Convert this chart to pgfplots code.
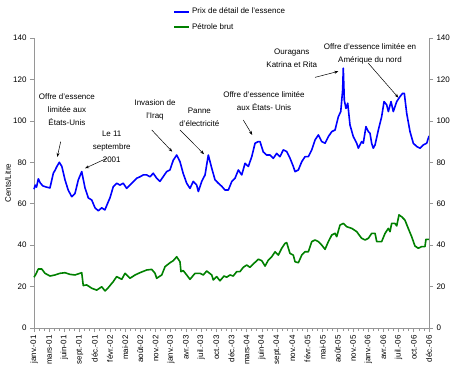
\documentclass[border=0pt]{standalone}
\usepackage{pgfplots}
\pgfplotsset{compat=1.18}
\usetikzlibrary{arrows.meta}
\usepackage{fontspec}
\setmainfont{Liberation Sans}
\definecolor{gasblue}{RGB}{0,0,255}
\definecolor{crudegreen}{RGB}{0,128,0}
\definecolor{axisgray}{RGB}{150,150,150}
\pgfplotsset{
  common/.style={
    at={(0,0)}, anchor=south west,
    width=395pt, height=290pt, scale only axis,
    xmin=0, xmax=312, ymin=0, ymax=140,
    ytick={0,20,...,140},
    axis line style={draw=axisgray, line width=0.9pt},
    tick style={draw=axisgray, line width=0.7pt},
    tick align=outside,
    major tick length=4pt, minor tick length=2.5pt,
    tick label style={font=\fontsize{8}{10}\selectfont},
    /pgf/number format/assume math mode=true,
  }
}
\begin{document}
\begin{tikzpicture}[font=\fontsize{8}{10}\selectfont]
\begin{axis}[common,
  axis x line*=bottom, axis y line*=left,
  clip=false,
  xtick={0,12,...,312},
  minor x tick num=2,
  xticklabels={janv.-01, mars-01, juin-01, sept.-01, déc.-01, févr.-02, mai-02, août-02, nov.-02, janv.-03, avr.-03, juil.-03, oct.-03, déc.-03, mars-04, juin-04, sept.-04, nov.-04, févr.-05, mai-05, août-05, nov.-05, janv.-06, avr.-06, juil.-06, oct.-06, déc.-06},
  x tick label style={rotate=90, anchor=east},
  ylabel={Cents/Litre},
  ylabel style={at={(axis description cs:-0.066,0.5)}, anchor=center, font=\fontsize{8}{10}\selectfont},
  legend style={at={(axis description cs:0.345,1)}, anchor=south west, yshift=3pt,
    draw=none, fill=none, font=\fontsize{8}{10}\selectfont, row sep=4pt},
  legend cell align=left,
  legend image code/.code={\draw[#1] (0pt,0pt) -- (15pt,0pt);},
]
\addplot[gasblue, line width=1.6pt, line join=round] coordinates {
(0,67) (1,69) (2,68) (3.4,72) (5,70) (7,68.6) (10,68) (12.6,67.6) (15.3,74.8) (16.5,76) (18,77.9) (20,80) (22,78) (24.5,71.5) (27,66.6) (29.8,63.4) (32.4,65) (35,71.5) (37.7,75.5) (40.3,67.6) (42.9,62.8) (45.6,61.8) (48.2,58) (50.8,56.6) (53.5,58) (56,57) (58.7,61) (60,62.8) (62.6,68.2) (65.3,69.9) (67.9,69) (70.5,69.9) (73.2,67.4) (75.8,69) (78.4,70.6) (81.1,72.3) (83.7,73) (86.3,73.9) (89,73.9) (91.6,73) (94.2,74.7) (96.9,72.3) (99.5,70.8) (102.1,73.1) (104.8,75.5) (107.4,76.3) (110,81) (112.7,83.5) (115.3,80.3) (117.9,74.5) (120.6,69.9) (123.2,67.4) (125.8,70.8) (128.5,69) (129.8,65.9) (132.5,70.8) (135.1,73.9) (137.7,83.5) (140.4,77.1) (143,71.5) (145.6,69.9) (148.3,68.4) (150.9,66.6) (153.5,66.6) (156.2,70.7) (158.8,72.3) (161.4,76.3) (164.1,73.9) (166.7,79.5) (169.3,78) (172,82.7) (174.6,89.2) (177.2,90) (178.5,90) (181.1,85) (183.8,83.5) (186.4,83.5) (189,81.9) (191.7,84.3) (194.3,82.7) (196.9,86) (199.6,85.2) (202.2,82) (204.8,78) (206.2,75.5) (208.8,76.3) (211.5,80.3) (214.1,82.7) (216.7,82.7) (219.4,86) (222,90.8) (224.6,93.2) (227.3,90) (229.9,89.2) (232.5,92.4) (235.2,94.8) (237.8,95.6) (240.4,102) (242.3,104.5) (243.8,115) (244.3,125.4) (245.1,110) (246.4,106) (247.8,108.5) (249.6,98) (252.2,92.4) (254.9,89.2) (256.2,86.8) (258.8,90) (260.1,89.2) (262.2,97.2) (264.1,94.8) (265.4,94) (266.7,89.2) (268,86.8) (269.4,88.4) (272,95.6) (274.6,102) (276.5,109.3) (278.6,107.7) (279.9,104.5) (282,109.3) (283.8,104.5) (286.5,109.3) (289.1,111.7) (291.2,113.3) (292.5,113.3) (294.4,103.6) (297,94.8) (299.6,89.2) (302.3,87.6) (304.9,86.8) (307.5,88.4) (310.2,89.2) (312,92.7)
};
\addlegendentry{Prix de détail de l'essence}
\addplot[crudegreen, line width=1.6pt, line join=round] coordinates {
(0,24.5) (1.5,26) (3.4,28.5) (6.1,28.5) (8.7,26.4) (12.6,25.1) (16.6,25.6) (20.5,26.4) (24.5,26.7) (28.4,25.9) (32.4,25.6) (36.3,26.4) (37.7,26.7) (38.9,20.5) (41.6,20.8) (45.6,19.2) (49.5,18.3) (53.5,19.9) (56.1,17.9) (58.7,19.5) (62.6,22.4) (65.3,24.8) (69.3,23.5) (71.9,26.4) (75.8,24) (79.8,25.6) (83.7,26.7) (89,28) (93,28.3) (95.6,26.4) (96.9,24) (100.9,25.6) (103.5,29.6) (107.4,31.5) (110,32.5) (112.7,34.4) (115.3,32) (116.1,27.2) (117.9,27.7) (120.6,25.6) (123.2,23.5) (127.2,26.4) (131.1,26.4) (133.7,25.6) (136.4,27.5) (140.4,25.6) (141.6,23.2) (144.3,24.8) (146.9,22.8) (150.1,25.1) (152.2,24.5) (154.8,25.6) (157.4,25.1) (160.1,27.2) (162.7,27.2) (165.3,29.3) (168,30.4) (170.6,29.3) (173.2,30.9) (177.2,33.2) (179.9,32.5) (182.5,29.9) (185.1,32.8) (187.8,34.4) (190.4,36.8) (193,35.2) (195.7,38.5) (198.3,40.9) (199.6,41.2) (202.2,36) (204.8,35.2) (206.2,32) (208.8,31.5) (211.5,35.2) (214.1,36.8) (216.7,36.8) (219.4,41.7) (222,42.5) (224.6,41.7) (227.3,40) (229.9,38) (232.5,41.7) (235.2,44.9) (237.8,45.7) (239.1,44.1) (241.7,49.7) (244.3,50.5) (247.1,48.9) (251,48.1) (254.9,46.5) (258.8,43.3) (261.5,42.5) (264.1,43.3) (266.7,45.7) (269.4,45.7) (270.7,41.7) (274.6,41.7) (277.3,45.7) (279.9,48.1) (281.2,46.5) (282.5,50.5) (285.1,50.5) (286.5,49.3) (288.3,54.6) (290.4,53.7) (293,52.1) (295.6,48.1) (298.3,44.1) (300.9,39.6) (303.5,38.5) (306.2,39.3) (308.8,39.3) (309.6,42.8) (312,42.8)
};
\addlegendentry{Pétrole brut}
% annotations
\begin{scope}[every node/.style={align=center, font=\fontsize{8}{13}\selectfont},
  arr/.style={-{Stealth[length=4pt,width=3pt]}, line width=0.5pt}]
\node at (axis cs:26,105.3) {Offre d'essence\\limitée aux\\États-Unis};
\draw[arr] (axis cs:21.1,90) -- (axis cs:18.4,82.6);
\node at (axis cs:61.4,87.4) {Le 11\\septembre\\2001};
\draw[arr] (axis cs:57.4,81.9) -- (axis cs:40.3,77.1);
\node at (axis cs:95.6,105.3) {Invasion de\\l'Iraq};
\draw[arr] (axis cs:93,95.6) -- (axis cs:109.2,85.1);
\node at (axis cs:130.6,101.6) {Panne\\d'électricité};
\draw[arr] (axis cs:115.3,95.6) -- (axis cs:134.3,83.9);
\node at (axis cs:181.7,109.4) {Offre d'essence limitée\\aux États- Unis};
\draw[arr] (axis cs:165.3,100.4) -- (axis cs:172.4,93.2);
\node at (axis cs:203.6,130.1) {Ouragans\\Katrina et Rita};
\draw[arr] (axis cs:222,121) -- (axis cs:240.4,123.9);
\node at (axis cs:265.4,132.5) {Offre d'essence limitée en\\Amérique du nord};
\draw[arr] (axis cs:264.1,127.8) -- (axis cs:287.8,111.2);
\end{scope}
\end{axis}
\begin{axis}[common,
  axis y line*=right, axis x line=none,
]
\end{axis}
\pgfresetboundingbox
\path[use as bounding box] (-34pt,-48pt) rectangle (416pt,328pt);
\end{tikzpicture}
\end{document}
